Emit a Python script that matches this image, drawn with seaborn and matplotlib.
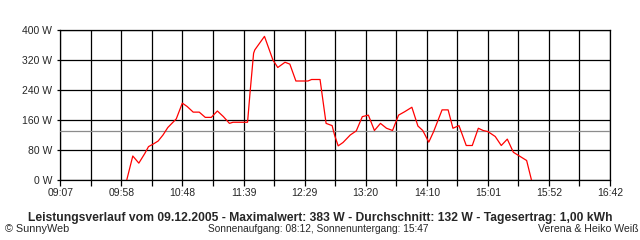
import matplotlib
matplotlib.use("Agg")
import matplotlib.pyplot as plt
import seaborn as sns
import pandas as pd
import numpy as np
from matplotlib.ticker import FixedLocator

times = ["10:02", "10:07", "10:12", "10:17", "10:20", "10:24", "10:28", "10:32", "10:36", "10:43",
         "10:48", "10:52", "10:57", "11:02", "11:07", "11:12", "11:17", "11:22", "11:27", "11:30",
         "11:42", "11:44", "11:47", "11:48", "11:52", "11:56", "12:00", "12:03", "12:07", "12:13",
         "12:17", "12:22", "12:32", "12:35", "12:42", "12:47", "12:52", "12:54", "12:57", "13:01",
         "13:07", "13:12", "13:17", "13:22", "13:27", "13:32", "13:37", "13:42", "13:47", "13:52",
         "13:58", "14:03", "14:07", "14:12", "14:16", "14:23", "14:28", "14:32", "14:37", "14:43",
         "14:48", "14:53", "14:57", "15:01", "15:07", "15:12", "15:17", "15:22", "15:28", "15:33",
         "15:37"]
power_w = [0, 64, 45, 71, 89, 96, 104, 120, 140, 163,
           205, 196, 181, 181, 167, 167, 184, 169, 151, 154,
           154, 231, 338, 347, 365, 383, 347, 320, 300, 314,
           309, 264, 264, 268, 268, 151, 145, 120, 91, 100,
           120, 131, 169, 173, 132, 151, 138, 132, 173, 182,
           194, 144, 132, 101, 129, 187, 187, 138, 145, 92,
           92, 138, 132, 129, 116, 92, 109, 74, 62, 52,
           0]
average_w = 132
tick_labels = ["09:07", "09:58", "10:48", "11:39", "12:29", "13:20", "14:10", "15:01", "15:52", "16:42"]
y_ticks = [0, 80, 160, 240, 320, 400]

title = "Leistungsverlauf vom 09.12.2005 - Maximalwert: 383 W - Durchschnitt: 132 W - Tagesertrag: 1,00 kWh"
footer_left = "\u00a9 SunnyWeb"
footer_mid = "Sonnenaufgang: 08:12, Sonnenuntergang: 15:47"
footer_right = "Verena & Heiko Wei\u00df"

def to_min(s):
    h, m = s.split(":")
    return int(h) * 60 + int(m)

df = pd.DataFrame({"t": [to_min(s) for s in times], "p": power_w})
t0 = to_min(tick_labels[0])
t1 = to_min(tick_labels[-1])

sns.set_style("white")
plt.rcParams["font.family"] = ["Liberation Sans", "DejaVu Sans"]

fig = plt.figure(figsize=(6.4, 2.4), dpi=100)
ax = fig.add_axes([60.3 / 640, 1 - 180 / 240, (610 - 60.3) / 640, 150 / 240])

sns.lineplot(data=df, x="t", y="p", ax=ax, color="#ff0000", linewidth=0.9, zorder=5)
ax.axhline(average_w, color="#8c8c8c", linewidth=0.9, zorder=4)

ax.set_xlim(t0, t1)
ax.set_ylim(0, 400)
major = np.linspace(t0, t1, 10)
minor = np.linspace(t0, t1, 19)
ax.xaxis.set_major_locator(FixedLocator(major))
ax.xaxis.set_minor_locator(FixedLocator(minor))
ax.set_xticklabels(tick_labels)
ax.set_yticks(y_ticks)
ax.set_yticklabels([f"{v} W" for v in y_ticks])
ax.grid(which="both", axis="x", color="black", linewidth=0.9)
ax.grid(which="major", axis="y", color="black", linewidth=0.9)
ax.tick_params(axis="x", which="both", direction="out", length=4, width=0.9, color="black",
               labelsize=7.5, pad=2, bottom=True)
ax.tick_params(axis="y", which="both", direction="out", length=2, width=0.9, color="black",
               labelsize=7.5, pad=4, left=True)
for sp in ax.spines.values():
    sp.set_color("black")
    sp.set_linewidth(0.9)
ax.set_xlabel("")
ax.set_ylabel("")

fig.text(320 / 640, 1 - 218 / 240, title, ha="center", va="center", fontsize=8.7, fontweight="bold")
fig.text(5 / 640, 1 - 229 / 240, footer_left, ha="left", va="center", fontsize=7.8)
fig.text(318 / 640, 1 - 229 / 240, footer_mid, ha="center", va="center", fontsize=7.3)
fig.text(638 / 640, 1 - 229 / 240, footer_right, ha="right", va="center", fontsize=7.6)

fig.savefig("out.png", dpi=100, facecolor="white")
